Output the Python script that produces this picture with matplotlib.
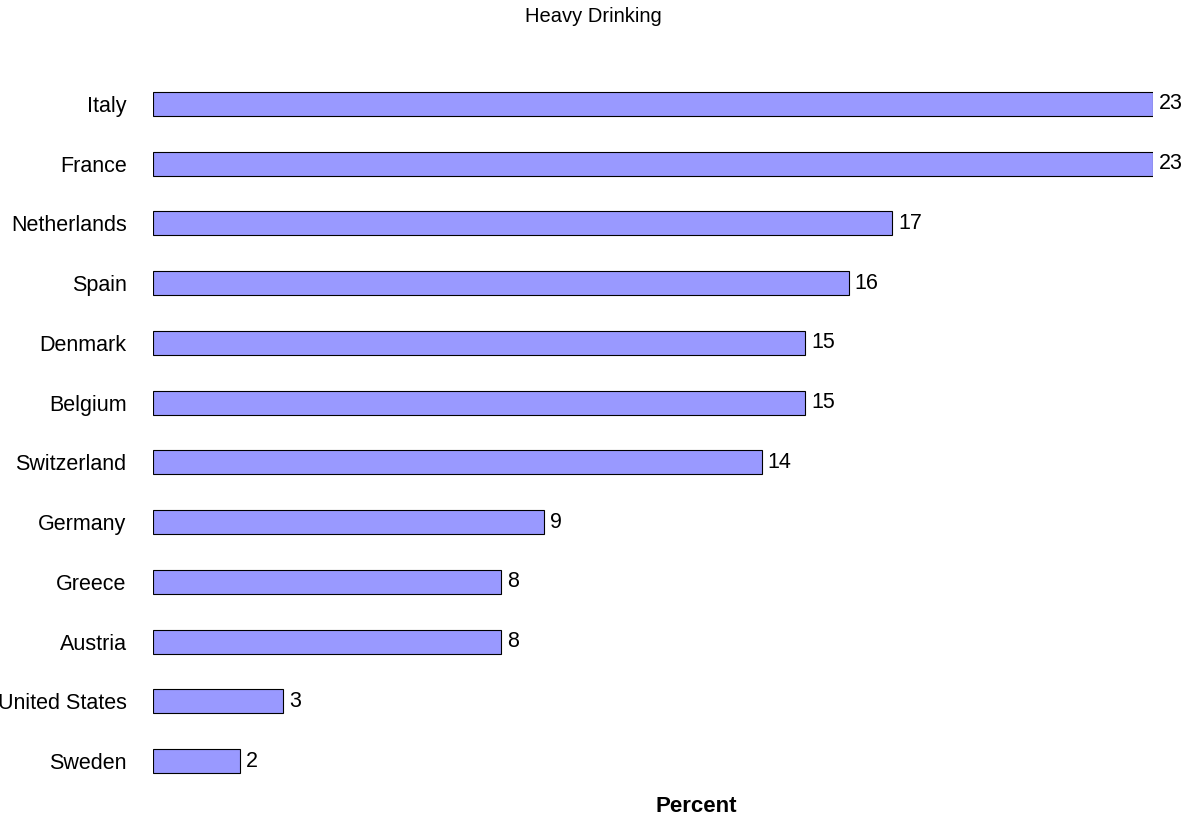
import matplotlib
matplotlib.use("Agg")
from matplotlib import pyplot as plt

countries = ["Italy", "France", "Netherlands", "Spain", "Denmark", "Belgium",
             "Switzerland", "Germany", "Greece", "Austria", "United States", "Sweden"]
percent = [23, 23, 17, 16, 15, 15, 14, 9, 8, 8, 3, 2]

plt.rcParams['font.family'] = ['Liberation Sans', 'DejaVu Sans']

fig = plt.figure(figsize=(11.86, 8.19), dpi=100)
ax = fig.add_axes([153 / 1186, 1 - 790.9 / 819, 1000 / 1186, 716.8 / 819])

ypos = list(range(len(countries)))
ax.barh(ypos, percent, height=0.4, color='#9999FF', edgecolor='black', linewidth=0.8)
for y, v in zip(ypos, percent):
    ax.text(v + 0.14, y, str(v), va='center', ha='left', fontsize=15.5)

ax.set_xlim(0, 23)
ax.set_ylim(len(countries) - 0.5, -0.5)
ax.set_yticks(ypos)
ax.set_yticklabels(countries, fontsize=15.5)
ax.tick_params(axis='y', length=0, pad=19)
ax.set_xticks([])
for s in ax.spines.values():
    s.set_visible(False)

fig.text(593 / 1186, 1 - 16 / 819, "Heavy Drinking", ha='center', va='center', fontsize=14.5)
fig.text(696 / 1186, 1 - 807 / 819, "Percent", ha='center', va='center', fontsize=16, fontweight='bold')

fig.savefig('out.png', dpi=100)
